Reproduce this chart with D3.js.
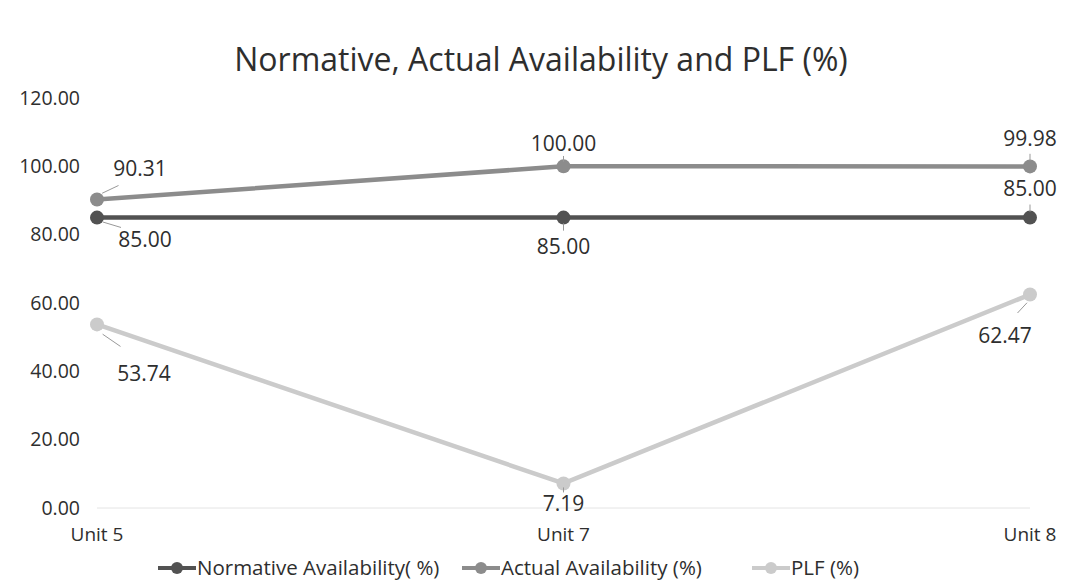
<!DOCTYPE html>
<html>
<head>
<meta charset="utf-8">
<script src="https://cdn.jsdelivr.net/npm/d3@7"></script>
<style>
body { margin: 0; background: #fff; }
text { font-family: "Open Sans", sans-serif; fill: #2e2e2e; }
</style>
</head>
<body>
<div id="chart"></div>
<script>
var width = 1065,
    height = 582;

// data
var units = ["Unit 5", "Unit 7", "Unit 8"];
var normative = [85.00, 85.00, 85.00];
var actual = [90.31, 100.00, 99.98];
var plf = [53.74, 7.19, 62.47];
var seriesNames = ["Normative Availability( %)", "Actual Availability (%)", "PLF (%)"];
var yTicks = [0, 20, 40, 60, 80, 100, 120];

var colors = ["#525252", "#8c8c8c", "#cbcbcb"];
// label offsets [dx, dy] per series per point
var labelOffsets = [
    [[48, 22], [0, 29], [0, -29]],
    [[43, -31], [0, -23], [0, -28]],
    [[47, 49], [0, 20], [-25, 41]]
];

var svg = d3.select("#chart")
    .append("svg")
    .attr("width", width)
    .attr("height", height);

var x = d3.scalePoint()
    .domain(units)
    .range([97, 1030]);

var y = d3.scaleLinear()
    .domain([0, 120])
    .range([508, 98]);

svg.append("text")
    .attr("x", 541)
    .attr("y", 71)
    .attr("text-anchor", "middle")
    .style("font-size", "32px")
    .text("Normative, Actual Availability and PLF (%)");

// y axis labels
svg.selectAll("text.ytick")
    .data(yTicks)
    .enter()
    .append("text")
    .attr("class", "ytick")
    .attr("x", 80)
    .attr("y", function (d) { return y(d); })
    .attr("dy", "0.35em")
    .attr("text-anchor", "end")
    .style("font-size", "19.5px")
    .text(function (d) { return d.toFixed(2); });

// baseline
svg.append("line")
    .attr("x1", 97)
    .attr("x2", 1030)
    .attr("y1", y(0))
    .attr("y2", y(0))
    .attr("stroke", "#e4e4e4")
    .attr("stroke-width", 1);

// x axis labels
svg.selectAll("text.xtick")
    .data(units)
    .enter()
    .append("text")
    .attr("class", "xtick")
    .attr("x", function (d) { return x(d); })
    .attr("y", 541)
    .attr("text-anchor", "middle")
    .style("font-size", "19px")
    .text(function (d) { return d; });

var allSeries = [normative, actual, plf];

var line = d3.line()
    .x(function (d, i) { return x(units[i]); })
    .y(function (d) { return y(d); });

// draw PLF first so the darker lines sit on top
[2, 1, 0].forEach(function (s) {
    var vals = allSeries[s];
    var g = svg.append("g");

    g.append("path")
        .datum(vals)
        .attr("fill", "none")
        .attr("stroke", colors[s])
        .attr("stroke-width", 4.5)
        .attr("d", line);

    g.selectAll("circle")
        .data(vals)
        .enter()
        .append("circle")
        .attr("cx", function (d, i) { return x(units[i]); })
        .attr("cy", function (d) { return y(d); })
        .attr("r", 7)
        .attr("fill", colors[s]);

    g.selectAll("line.leader")
        .data(vals)
        .enter()
        .append("line")
        .attr("class", "leader")
        .attr("x1", function (d, i) { return x(units[i]) + labelOffsets[s][i][0] * 0.12; })
        .attr("y1", function (d, i) { return y(d) + labelOffsets[s][i][1] * 0.2; })
        .attr("x2", function (d, i) { return x(units[i]) + labelOffsets[s][i][0] * 0.5; })
        .attr("y2", function (d, i) { return y(d) + labelOffsets[s][i][1] * 0.45; })
        .attr("stroke", "#999")
        .attr("stroke-width", 1);

    g.selectAll("text.lbl")
        .data(vals)
        .enter()
        .append("text")
        .attr("class", "lbl")
        .attr("x", function (d, i) { return x(units[i]) + labelOffsets[s][i][0]; })
        .attr("y", function (d, i) { return y(d) + labelOffsets[s][i][1]; })
        .attr("dy", "0.35em")
        .attr("text-anchor", "middle")
        .style("font-size", "21px")
        .text(function (d) { return d.toFixed(2); });
});

// legend
var legendX = [158, 462, 752];
var legend = svg.selectAll("g.legend")
    .data(seriesNames)
    .enter()
    .append("g")
    .attr("class", "legend")
    .attr("transform", function (d, i) { return "translate(" + legendX[i] + ",568)"; });

legend.append("line")
    .attr("x1", 0)
    .attr("x2", 38)
    .attr("stroke", function (d, i) { return colors[i]; })
    .attr("stroke-width", 4);

legend.append("circle")
    .attr("cx", 19)
    .attr("r", 6)
    .attr("fill", function (d, i) { return colors[i]; });

legend.append("text")
    .attr("x", 39)
    .attr("dy", "0.35em")
    .style("font-size", "20.5px")
    .text(function (d) { return d; });
</script>
</body>
</html>
